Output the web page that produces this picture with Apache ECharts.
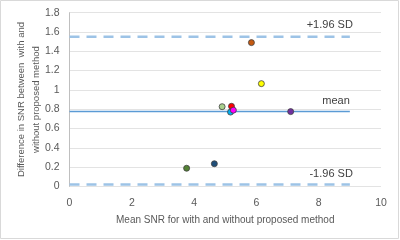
<!DOCTYPE html>
<html>
<head>
<meta charset="utf-8">
<script src="https://cdn.jsdelivr.net/npm/echarts@6/dist/echarts.min.js"></script>
<style>
  html, body { margin: 0; padding: 0; background: #fff; }
  #chart { width: 400px; height: 240px; }
</style>
</head>
<body>
<div id="chart"></div>
<script>
// Bland-Altman points: mean SNR (x) vs difference (y)
const meanSnr = [5.84, 6.16, 7.10, 4.90, 5.20, 5.17, 5.26, 4.65, 3.76];
const snrDiff = [1.49, 1.065, 0.775, 0.826, 0.83, 0.77, 0.79, 0.235, 0.188];
const pointColors = ['#C55A11', '#FFFF00', '#7030A0', '#A9D18E', '#FF0000', '#00B0F0', '#FF00FF', '#1F4E79', '#548235'];

// reference lines
const lineRange = [0, 9];
const meanDiff = 0.775;
const upperLimit = 1.55;
const lowerLimit = 0.02;

const xTicks = { min: 0, max: 10, interval: 2 };
const yTicks = { min: 0, max: 1.8, interval: 0.2 };

const chart = echarts.init(document.getElementById('chart'), null, { renderer: 'canvas' });
const font = "'Liberation Sans', 'DejaVu Sans', sans-serif";

function refLine(name, y, color, width, dashed, label, labelOffset) {
  return {
    name,
    type: 'line',
    symbol: 'circle',
    symbolSize: 0.01,
    showSymbol: true,
    silent: true,
    z: 2,
    itemStyle: { color },
    lineStyle: { color, width, type: dashed ? [10, 7] : 'solid' },
    data: lineRange.map((x, i) => ({
      value: [x, y],
      label: i === 1 ? {
        show: true,
        formatter: label,
        position: 'top',
        align: 'right',
        offset: labelOffset,
        color: '#404040',
        fontSize: 11,
        fontFamily: font
      } : { show: false }
    }))
  };
}

chart.setOption({
  animation: false,
  graphic: [{
    type: 'rect',
    shape: { x: 0.5, y: 0.5, width: 398, height: 238 },
    style: { fill: 'none', stroke: '#D9D9D9', lineWidth: 1 },
    silent: true
  }],
  grid: { left: 69.5, right: 19, top: 12.7, bottom: 53.6, outerBoundsMode: 'none' },
  xAxis: {
    type: 'value',
    min: xTicks.min, max: xTicks.max, interval: xTicks.interval,
    name: 'Mean SNR for with and without proposed method',
    nameLocation: 'middle',
    nameGap: 29,
    nameMoveOverlap: false,
    nameTextStyle: { color: '#595959', fontSize: 10, fontFamily: font },
    axisLine: { show: false },
    axisTick: { show: false },
    axisLabel: { color: '#595959', fontSize: 10.5, fontFamily: font, margin: 11 },
    splitLine: { show: false }
  },
  yAxis: {
    type: 'value',
    min: yTicks.min, max: yTicks.max, interval: yTicks.interval,
    name: 'Difference in SNR between  with and\nwithout proposed method',
    nameLocation: 'middle',
    nameRotate: 90,
    nameGap: 26,
    nameMoveOverlap: false,
    nameTextStyle: { color: '#595959', fontSize: 9.5, fontFamily: font, lineHeight: 15 },
    axisLine: { show: true, lineStyle: { color: '#BFBFBF', width: 1 } },
    axisTick: { show: false },
    axisLabel: { color: '#595959', fontSize: 10.5, fontFamily: font, margin: 10 },
    splitLine: { lineStyle: { color: '#E3E3E3', width: 1 } }
  },
  series: [
    refLine('upper', upperLimit, '#9DC3E6', 2.5, true, '+1.96 SD', [3, -1]),
    refLine('lower', lowerLimit, '#9DC3E6', 2.5, true, '-1.96 SD', [3, 0]),
    refLine('mean', meanDiff, '#5B9BD5', 1.5, false, 'mean', [0, 0]),
    {
      type: 'scatter',
      z: 5,
      symbolSize: 6,
      data: meanSnr.map((x, i) => [x, snrDiff[i]]),
      itemStyle: {
        color: p => pointColors[p.dataIndex],
        borderColor: '#404040',
        borderWidth: 0.8,
        opacity: 1
      }
    }
  ]
});
</script>
</body>
</html>
